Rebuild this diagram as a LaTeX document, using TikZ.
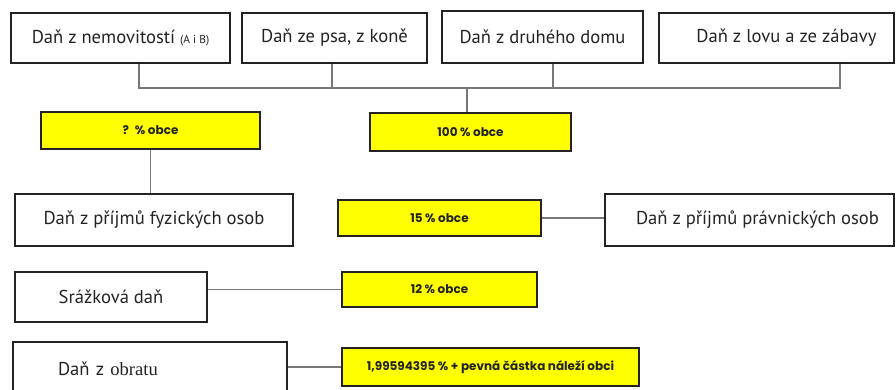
\documentclass[tikz,border=0pt]{standalone}
\usepackage{fontspec}
\setmainfont{PT Sans}
\newfontfamily\timesfont{Liberation Serif}
\newfontfamily\sharefont{Poppins}
\definecolor{boxyellow}{RGB}{255,255,0}
\definecolor{linegray}{RGB}{120,120,120}
\definecolor{textdark}{RGB}{35,35,35}

\begin{document}
\begin{tikzpicture}[x=1pt, y=-1pt,
		main/.style = {draw=textdark, line width=1.3pt, text=textdark, font=\fontsize{18.6}{22}\selectfont, minimum height=50pt, inner sep=0pt},
		share/.style = {main, fill=boxyellow, font=\sharefont\fontsize{12}{14}\bfseries\selectfont, minimum height=37pt},
		link/.style = {draw=linegray, line width=1.1pt}]
		\useasboundingbox (0,0) rectangle (896,389);
		%Local taxes in the top row
		\node[main, minimum width=219pt] (1) at (120.5,38) {Daň z nemovitostí {\fontsize{11.5}{12}\selectfont(A i B)}};
		\node[main, minimum width=185pt] (2) at (334.5,38) {Daň ze psa, z koně};
		\node[main, minimum width=201pt, minimum height=52pt] (3) at (542.5,37) {Daň z druhého domu};
		\node[main, minimum width=235pt] (4) at (776.5,38) {\hspace*{20pt}Daň z lovu a ze zábavy};
		\node[share, minimum width=201pt, minimum height=38pt] (6) at (470.5,132) {100 \% obce};
		\coordinate (bus) at (467,88);
		
		%Income taxes
		\node[share, minimum width=219pt] (5) at (150.5,130.5) {? ~\% obce};
		\node[main, minimum width=278pt, minimum height=52pt] (7) at (154,220) {Daň z příjmů fyzických osob};
		\node[share, minimum width=203pt, minimum height=36pt] (8) at (439.5,218) {15 \% obce};
		\node[main, minimum width=289pt, minimum height=52pt] (9) at (749.5,220) {\hspace*{16pt}Daň z příjmů právnických osob};
		
		%Withholding tax and turnover tax
		\node[main, minimum width=192pt] (10) at (111,297) {Srážková daň};
		\node[share, minimum width=195pt, minimum height=35pt] (11) at (439.5,289.5) {12 \% obce};
		\node[main, minimum width=274pt, minimum height=53pt, text width=184pt, inner xsep=45pt, align=left] (12) at (150,368.5) {Daň z {\timesfont obratu}};
		\node[share, minimum width=297pt, minimum height=38pt] (13) at (490.5,367) {1,99594395 \% + pevná částka náleží obci};
		
		%Connectors
		\draw[link] ([xshift=18.5pt]1.south) |- (bus); %Edge 1 -> bus
		\draw[link] ([xshift=-2.5pt]2.south) |- (bus); %Edge 2 -> bus
		\draw[link] ([xshift=10.5pt]3.south) |- (bus); %Edge 3 -> bus
		\draw[link] ([xshift=63.5pt]4.south) |- (bus); %Edge 4 -> bus
		\draw[link] (bus) -- (6.north -| bus); %Edge bus -> 6
		\draw[link] (5.south) -- (7.north -| 5.south); %Edge 5 -> 7
		\draw[link] (8.east) -- (9.west |- 8.east); %Edge 8 -> 9
		\draw[link] (10.east |- 11.west) -- (11.west); %Edge 10 -> 11
		\draw[link] (12.east |- 13.west) -- (13.west); %Edge 12 -> 13
	\end{tikzpicture}
\end{document}
